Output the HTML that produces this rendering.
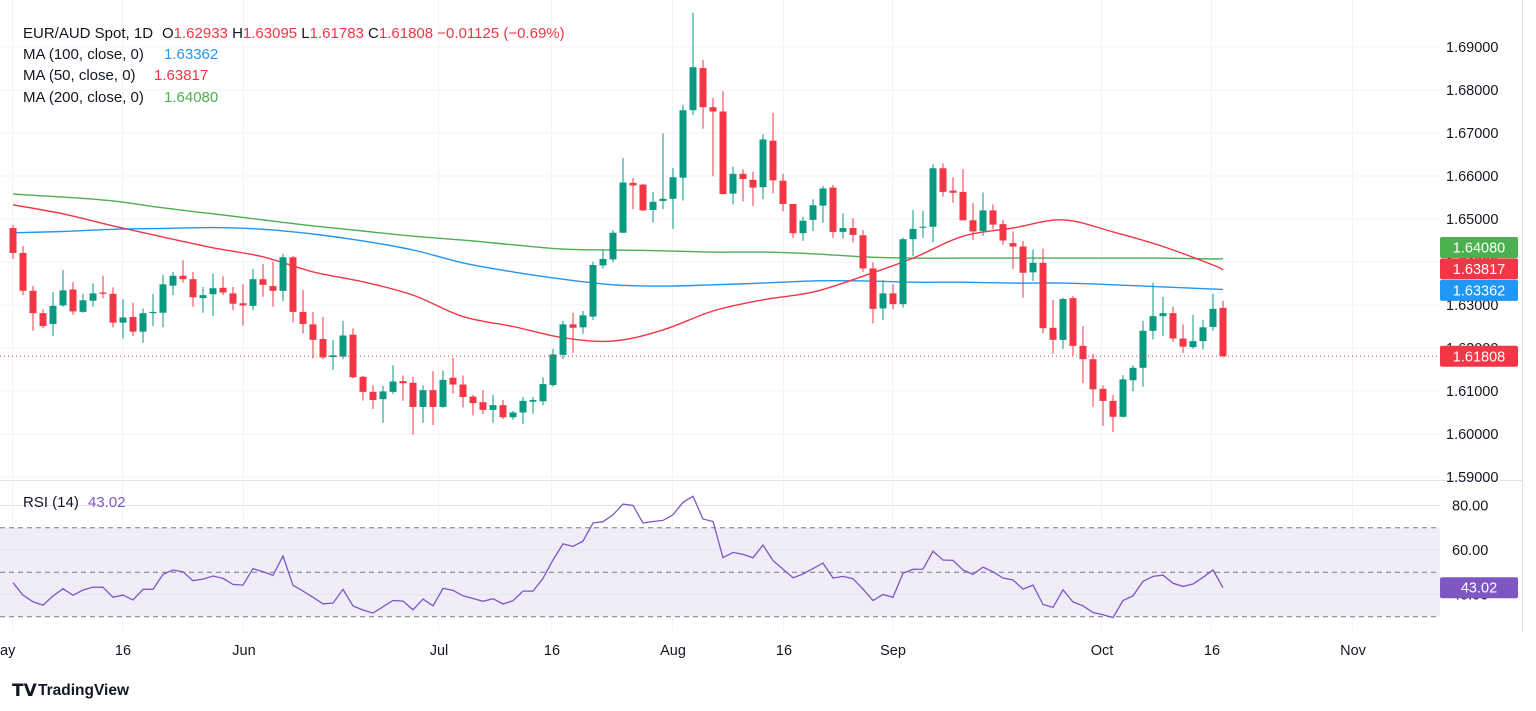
<!DOCTYPE html>
<html><head><meta charset="utf-8">
<style>
html,body{margin:0;padding:0;background:#fff;width:1536px;height:711px;overflow:hidden;font-family:"Liberation Sans",sans-serif;}
svg{display:block}
text{font-family:"Liberation Sans",sans-serif;}
</style></head>
<body>
<svg id="chart" width="1536" height="711" viewBox="0 0 1536 711" xmlns="http://www.w3.org/2000/svg">
  <g id="grid"></g>
  <rect x="0" y="527.7" width="1440" height="89" fill="#f0ecf8"/>
  <g id="rsigrid"></g>
  <g id="ma"></g>
  <g id="candles"></g>
  <g id="rsi"></g>
  <line x1="0" y1="480.5" x2="1522" y2="480.5" stroke="#e0e3eb" stroke-width="1"/>
  <line x1="1522.5" y1="0" x2="1522.5" y2="632" stroke="#e0e3eb" stroke-width="1"/>
  <g id="axis"></g>
  <g id="taxis"></g>
  <g font-size="15" fill="#131722">
    <text x="23" y="38">EUR/AUD Spot, 1D <tspan x="162">O</tspan><tspan fill="#f23645">1.62933</tspan> H<tspan fill="#f23645">1.63095</tspan> L<tspan fill="#f23645">1.61783</tspan> C<tspan fill="#f23645">1.61808</tspan> <tspan fill="#f23645">−0.01125 (−0.69%)</tspan></text>
    <text x="23" y="59">MA (100, close, 0) <tspan x="164" fill="#2196f3">1.63362</tspan></text>
    <text x="23" y="80">MA (50, close, 0) <tspan x="154" fill="#f23645">1.63817</tspan></text>
    <text x="23" y="102">MA (200, close, 0) <tspan x="164" fill="#4caf50">1.64080</tspan></text>
    <text x="23" y="507">RSI (14) <tspan x="88" fill="#7e57c2">43.02</tspan></text>
  </g>
  <g>
    <text x="12" y="696" font-size="17" font-weight="bold" fill="#131722">𝗧𝗩</text>
    <text x="38" y="695" font-size="15.5" font-weight="bold" fill="#131722">TradingView</text>
  </g>
</svg>
<script>
const opens=[1.6479,1.6421,1.6333,1.6281,1.6256,1.6299,1.6336,1.6284,1.6310,1.6329,
1.6326,1.6259,1.6272,1.6238,1.6281,1.6282,1.6345,1.6368,1.6360,1.6316,
1.6325,1.6340,1.6327,1.6304,1.6298,1.6360,1.6344,1.6333,1.6411,1.6284,
1.6255,1.6221,1.6179,1.6180,1.6231,1.6133,1.6098,1.6081,1.6098,1.6123,
1.6119,1.6063,1.6102,1.6063,1.6131,1.6115,1.6087,1.6074,1.6056,1.6067,
1.6039,1.6050,1.6075,1.6076,1.6114,1.6184,1.6255,1.6248,1.6273,1.6392,
1.6406,1.6468,1.6584,1.6580,1.6521,1.6542,1.6547,1.6596,1.6753,1.6851,
1.6760,1.6750,1.6559,1.6605,1.6591,1.6574,1.6682,1.6589,1.6535,1.6467,
1.6498,1.6531,1.6573,1.6470,1.6479,1.6462,1.6385,1.6292,1.6327,1.6302,
1.6453,1.6480,1.6482,1.6618,1.6566,1.6563,1.6497,1.6472,1.6520,1.6488,
1.6444,1.6436,1.6376,1.6398,1.6247,1.6219,1.6316,1.6205,1.6174,1.6105,
1.6077,1.6040,1.6125,1.6154,1.6240,1.6274,1.6281,1.6222,1.6202,1.6216,
1.6249,1.62933];
const highs=[1.6486,1.6437,1.6344,1.6290,1.6330,1.6381,1.6353,1.6326,1.6350,1.6368,
1.6341,1.6313,1.6305,1.6292,1.6326,1.6370,1.6377,1.6404,1.6377,1.6342,
1.6373,1.6367,1.6342,1.6348,1.6384,1.6395,1.6401,1.6419,1.6414,1.6335,
1.6284,1.6272,1.6219,1.6263,1.6246,1.6135,1.6113,1.6112,1.6160,1.6136,
1.6133,1.6113,1.6146,1.6147,1.6177,1.6136,1.6091,1.6102,1.6091,1.6079,
1.6054,1.6086,1.6086,1.6132,1.6198,1.6263,1.6282,1.6286,1.6401,1.6428,
1.6474,1.6642,1.6595,1.6582,1.6563,1.6699,1.6619,1.6766,1.6980,1.6870,
1.6781,1.6797,1.6622,1.6616,1.6610,1.6697,1.6747,1.6605,1.6535,1.6505,
1.6546,1.6577,1.6579,1.6513,1.6502,1.6474,1.6399,1.6358,1.6348,1.6457,
1.6521,1.6519,1.6627,1.6629,1.6597,1.6616,1.6537,1.6562,1.6534,1.6498,
1.6471,1.6449,1.6429,1.6431,1.6312,1.6317,1.6321,1.6251,1.6186,1.6113,
1.6091,1.6137,1.6160,1.6263,1.6352,1.6319,1.6296,1.6255,1.6277,1.6265,
1.6326,1.63095];
const lows=[1.6407,1.6323,1.6240,1.6246,1.6228,1.6296,1.6277,1.6282,1.6296,1.6316,
1.6248,1.6222,1.6228,1.6212,1.6251,1.6248,1.6323,1.6352,1.6296,1.6282,
1.6274,1.6323,1.6288,1.6252,1.6288,1.6319,1.6296,1.6309,1.6260,1.6234,
1.6176,1.6174,1.6149,1.6174,1.6129,1.6078,1.6058,1.6026,1.6093,1.6077,
1.5998,1.6026,1.6021,1.6061,1.6094,1.6062,1.6043,1.6046,1.6026,1.6035,
1.6033,1.6023,1.6047,1.6067,1.6110,1.6174,1.6188,1.6233,1.6265,1.6385,
1.6399,1.6468,1.6523,1.6519,1.6492,1.6523,1.6477,1.6543,1.6742,1.6710,
1.6599,1.6557,1.6534,1.6541,1.6530,1.6546,1.6560,1.6518,1.6456,1.6449,
1.6472,1.6491,1.6456,1.6454,1.6446,1.6377,1.6257,1.6265,1.6290,1.6294,
1.6414,1.6456,1.6446,1.6552,1.6538,1.6497,1.6451,1.6461,1.6477,1.6440,
1.6384,1.6317,1.6356,1.6234,1.6187,1.6198,1.6182,1.6118,1.6063,1.6019,
1.6005,1.6038,1.6099,1.6110,1.6220,1.6228,1.6214,1.6188,1.6198,1.6197,
1.6240,1.61783];
const closes=[1.6421,1.6333,1.6281,1.6251,1.6298,1.6334,1.6285,1.6311,1.6327,1.6326,
1.6259,1.6271,1.6238,1.6281,1.6284,1.6348,1.6368,1.6360,1.6318,1.6323,
1.6339,1.6329,1.6303,1.6299,1.6360,1.6347,1.6333,1.6411,1.6284,1.6256,
1.6219,1.6178,1.6183,1.6229,1.6132,1.6098,1.6079,1.6099,1.6122,1.6118,
1.6063,1.6102,1.6063,1.6126,1.6115,1.6086,1.6072,1.6056,1.6067,1.6039,
1.6050,1.6077,1.6079,1.6116,1.6185,1.6255,1.6247,1.6276,1.6393,1.6407,
1.6468,1.6585,1.6578,1.6520,1.6540,1.6547,1.6597,1.6753,1.6853,1.6760,
1.6750,1.6558,1.6605,1.6593,1.6573,1.6685,1.6590,1.6535,1.6467,1.6496,
1.6532,1.6571,1.6470,1.6479,1.6463,1.6385,1.6291,1.6327,1.6302,1.6453,
1.6477,1.6482,1.6618,1.6563,1.6561,1.6497,1.6471,1.6520,1.6487,1.6450,
1.6436,1.6375,1.6398,1.6246,1.6219,1.6314,1.6205,1.6174,1.6104,1.6077,
1.6040,1.6127,1.6154,1.6240,1.6274,1.6281,1.6222,1.6203,1.6216,1.6248,
1.6291,1.61808];
const rsiValues=[45.3,39.7,36.7,35.2,39.3,42.6,39.6,42.0,43.3,43.2,
38.7,39.7,37.5,42.3,42.3,49.0,51.0,50.2,46.2,46.9,
48.3,47.2,44.5,44.2,51.6,50.2,48.6,57.3,44.1,41.5,
38.7,35.8,36.1,42.3,34.8,33.0,31.6,34.5,37.3,37.0,
33.1,37.9,34.9,42.7,41.8,39.4,38.2,36.9,38.1,35.7,
37.2,41.5,41.5,47.2,55.5,62.7,61.6,64.0,72.1,72.7,
75.8,80.6,80.0,72.1,72.8,73.3,75.8,81.4,84.1,73.9,
72.8,56.5,58.9,58.0,56.5,62.2,55.2,51.4,47.5,49.2,
51.6,54.1,47.4,48.1,47.1,42.4,37.3,40.0,38.7,49.5,
51.3,51.4,59.4,55.5,55.3,51.0,49.0,52.3,50.2,47.4,
46.5,42.4,44.2,35.5,34.2,42.1,36.6,34.9,31.9,30.9,
29.6,37.3,39.4,45.9,48.1,48.7,45.0,43.6,44.7,47.7,
51.0,43.02];
const maIndex=[0,5,10,15,20,25,30,35,40,45,50,55,60,65,70,75,80,85,90,95,100,105,110,115,120,121];
const ma50=[1.6533,1.6512,1.6484,1.6458,1.6433,1.6412,1.6377,1.6354,1.6323,1.6273,1.6250,1.6224,1.6216,1.6242,1.6286,1.6312,1.6330,1.6367,1.6409,1.6460,1.6479,1.6498,1.6470,1.6436,1.6393,1.63817];
const ma100=[1.6468,1.6471,1.6476,1.6478,1.6480,1.6476,1.6465,1.6449,1.6428,1.6398,1.6377,1.6360,1.6347,1.6344,1.6347,1.6351,1.6356,1.6356,1.6353,1.6353,1.6351,1.6351,1.6347,1.6342,1.6337,1.63362];
const ma200=[1.6558,1.6551,1.6542,1.6526,1.6512,1.6498,1.6484,1.6472,1.6460,1.6451,1.6440,1.6430,1.6428,1.6426,1.6423,1.6423,1.6419,1.6412,1.6409,1.6409,1.6409,1.6409,1.6409,1.6409,1.6407,1.64080];
const priceTicks=["1.69000","1.68000","1.67000","1.66000","1.65000","1.64000","1.63000","1.62000","1.61000","1.60000","1.59000"];
const priceTickValues=[1.69,1.68,1.67,1.66,1.65,1.64,1.63,1.62,1.61,1.60,1.59];
const rsiTicks=["80.00","60.00","40.00"];
const rsiTickValues=[80,60,40];
const rsiDashed=[70,50,30];
const timeLabels=["ay","16","Jun","Jul","16","Aug","16","Sep","Oct","16","Nov"];
const timeIndex=[0,11,23.1,42.6,53.9,66,77.1,88,108.9,119.9,134];

const NS="http://www.w3.org/2000/svg";
function xI(i){return 13+10*i;}
function yP(p){return 47+(1.69-p)*4300;}
function yR(v){return 527.7+(70-v)*2.225;}
function mk(tag,attrs,parent){const e=document.createElementNS(NS,tag);for(const k in attrs)e.setAttribute(k,attrs[k]);parent.appendChild(e);return e;}
const grid=document.getElementById('grid'),rg=document.getElementById('rsigrid'),ma=document.getElementById('ma'),cg=document.getElementById('candles'),rs=document.getElementById('rsi'),ax=document.getElementById('axis'),tx=document.getElementById('taxis');

priceTickValues.forEach((v,k)=>{
  const l=mk('line',{x1:0,x2:1440,y1:yP(v),y2:yP(v),stroke:'#f0f3fa','stroke-width':1},grid);
  
  
});
timeIndex.forEach((i,k)=>{
  const x=Math.round(xI(i))-0.5;
  const l=mk('line',{x1:x,x2:x,y1:0,y2:631,stroke:'#f0f3fa','stroke-width':1},grid);
  
  
  const t=mk('text',{x:k===0?0:xI(i),y:655,'font-size':14.5,fill:'#131722','text-anchor':k===0?'start':'middle'},tx);
  t.textContent=timeLabels[k];
  
  
});
rsiTickValues.forEach(v=>{
  const l=mk('line',{x1:0,x2:1440,y1:yR(v),y2:yR(v),stroke:'#e6e2f0','stroke-width':1},rg);
  
  
});
rsiDashed.forEach(v=>{
  const l=mk('line',{x1:0,x2:1440,y1:yR(v),y2:yR(v),stroke:'#787b86','stroke-width':1,'stroke-dasharray':'5 4'},rg);
  
  
});

function maLine(vals,color,name){
  const P=maIndex.map((i,k)=>[xI(i),yP(vals[k])]);
  let d='M'+P[0][0]+','+P[0][1].toFixed(1);
  for(let k=0;k<P.length-1;k++){
    const p0=P[Math.max(0,k-1)],p1=P[k],p2=P[k+1],p3=P[Math.min(P.length-1,k+2)];
    const c1x=p1[0]+(p2[0]-p0[0])/6,c1y=p1[1]+(p2[1]-p0[1])/6;
    const c2x=p2[0]-(p3[0]-p1[0])/6,c2y=p2[1]-(p3[1]-p1[1])/6;
    d+=' C'+c1x.toFixed(1)+','+c1y.toFixed(1)+' '+c2x.toFixed(1)+','+c2y.toFixed(1)+' '+p2[0]+','+p2[1].toFixed(1);
  }
  const p=mk('path',{d:d,fill:'none',stroke:color,'stroke-width':1.4,'stroke-linejoin':'round'},ma);
  
  
}
maLine(ma200,'#4caf50','ma200-line');
maLine(ma100,'#2196f3','ma100-line');
maLine(ma50,'#f23645','ma50-line');

for(let i=0;i<opens.length;i++){
  const up=closes[i]>=opens[i];
  const col=up?'#089981':'#f23645';
  const x=xI(i);
  const g=mk('g',{},cg);
  
  
  mk('line',{x1:x,x2:x,y1:yP(highs[i]),y2:yP(lows[i]),stroke:col,'stroke-width':1},g);
  const top=yP(Math.max(opens[i],closes[i])),bot=yP(Math.min(opens[i],closes[i]));
  mk('rect',{x:x-3.5,y:top,width:7,height:Math.max(1,bot-top),fill:col},g);
}

const last=closes[closes.length-1];
const dl=mk('line',{x1:0,x2:1440,y1:yP(last),y2:yP(last),stroke:'#f23645','stroke-width':1,'stroke-dasharray':'1 3'},cg);



const rp=mk('polyline',{points:rsiValues.map((v,i)=>xI(i)+','+yR(v).toFixed(1)).join(' '),fill:'none',stroke:'#7e57c2','stroke-width':1.3},rs);



priceTickValues.forEach((v,k)=>{
  const t=mk('text',{x:1446,y:yP(v)+5,'font-size':14.5,fill:'#131722'},ax);
  t.textContent=priceTicks[k];
  
  
});
rsiTickValues.forEach((v,k)=>{
  const t=mk('text',{x:1452,y:yR(v)+5,'font-size':14.5,fill:'#131722'},ax);
  t.textContent=rsiTicks[k];
  
  
});
function badge(yc,color,label,name){
  const g=mk('g',{},ax);
  
  
  mk('rect',{x:1440,y:yc-10.5,width:78,height:21,rx:2,fill:color},g);
  const t=mk('text',{x:1479,y:yc+5,'font-size':14.5,fill:'#fff','text-anchor':'middle'},g);
  t.textContent=label;
}
badge(yP(ma200[ma200.length-1])-11,'#4caf50',ma200[ma200.length-1].toFixed(5),'ma200-badge');
badge(yP(ma50[ma50.length-1])-1,'#f23645',ma50[ma50.length-1].toFixed(5),'ma50-badge');
badge(yP(ma100[ma100.length-1])+1,'#2196f3',ma100[ma100.length-1].toFixed(5),'ma100-badge');
badge(yP(last),'#f23645',last.toFixed(5),'last-price-badge');
badge(yR(rsiValues[rsiValues.length-1]),'#7e57c2',rsiValues[rsiValues.length-1].toFixed(2),'rsi-badge');
</script>
</body></html>
